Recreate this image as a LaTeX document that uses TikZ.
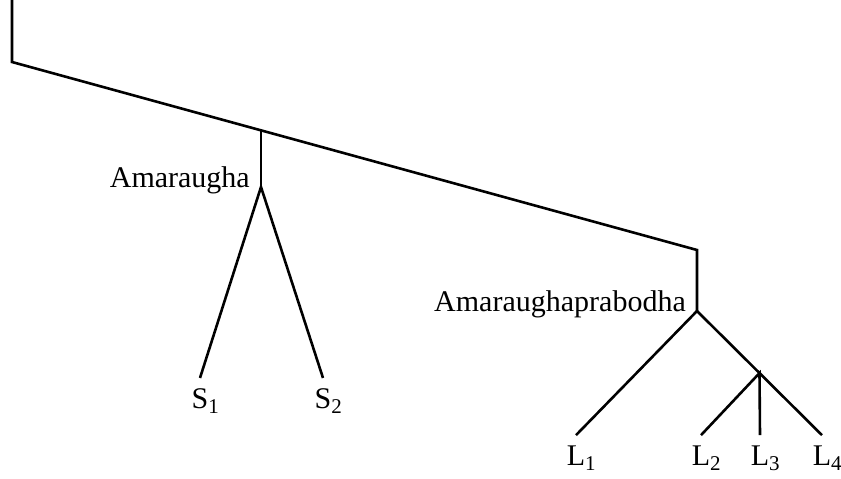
\documentclass[tikz,border=0pt]{standalone}
\usepackage{fontspec}
\setmainfont{Liberation Serif}
\usetikzlibrary{positioning}

\begin{document}
\begin{tikzpicture}[x=1pt,y=-1pt]

	% 定义样式
	\tikzset{
		branch/.style = {
			line width=2.6pt,
			line join=miter
		},
		leaf/.style = {
			anchor=base,
			inner sep=10pt,
			font=\fontsize{30}{36}\selectfont
		},
		tag/.style = {
			anchor=base east,
			inner sep=11pt,
			font=\fontsize{30}{36}\selectfont
		}
	}

	% 参数设置
	\def \leafS {408}
	\def \leafL {465}

	\path[use as bounding box] (0,0) rectangle (841,479);

	% 主干
	\coordinate (top) at (12,0);
	\coordinate (root) at (12,62);
	\coordinate (bj) at (697,250);
	\coordinate (bf) at (697,311);
	\path (root) -- (bj) coordinate[pos=0.3635] (aj);
	\coordinate (af) at (aj |- 0,187);

	% 标签
	\node[tag] (amara) at (af) {Amaraugha};
	\node[tag] (prabodha) at (bf) {Amaraughaprabodha};
	\node[leaf] (s1) at (200,\leafS) {S\rlap{\textsubscript{1}}};
	\node[leaf] (s2) at (323,\leafS) {S\rlap{\textsubscript{2}}};
	\node[leaf] (l1) at (576,\leafL) {L\rlap{\textsubscript{1}}};
	\node[leaf] (l2) at (701,\leafL) {L\rlap{\textsubscript{2}}};
	\node[leaf] (l3) at (760,\leafL) {L\rlap{\textsubscript{3}}};
	\node[leaf] (l4) at (822,\leafL) {L\rlap{\textsubscript{4}}};
	\path (bf) -- (l4.north) coordinate[pos=0.5] (cf);

	% 分支
	\draw[branch] (top) -- (root) -- (bj) -- (bf);
	\draw[branch] (aj) -- (af);
	\draw[branch] (s1.north) -- (af) -- (s2.north);
	\draw[branch] (l1.north) -- (bf) -- (l4.north);
	\draw[branch] (l2.north) -- (cf) -- (l3.north);

\end{tikzpicture}
\end{document}
